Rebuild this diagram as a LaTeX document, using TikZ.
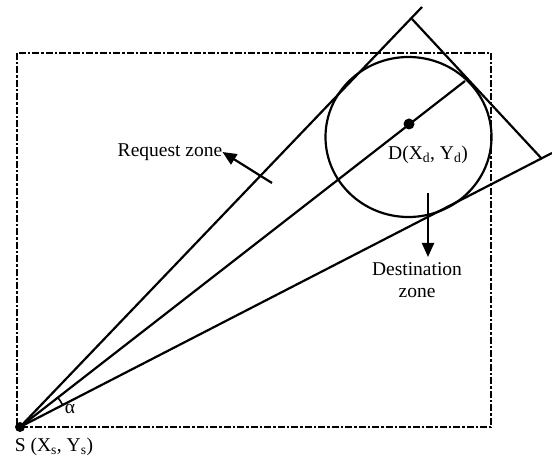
\documentclass[tikz,border=0pt]{standalone}
\usepackage{fontspec}
\setmainfont{Liberation Serif}
\usetikzlibrary{arrows.meta,calc}
\begin{document}
\begin{tikzpicture}[x=1pt,y=1pt,
  ln/.style={line width=2.2pt},
  zone/.style={line width=1.8pt,dash pattern=on 7pt off 2pt on 2.5pt off 2pt},
  lbl/.style={font=\fontsize{19.5}{22}\selectfont,inner sep=0pt},
  tip/.style={-{Triangle[length=14pt,width=12pt]},line width=2.2pt},
  dot/.style={circle,fill=black,inner sep=0pt}]
\useasboundingbox (0,0) rectangle (552,-457);
% dashed zone rectangle
\draw[zone] (17,-53) rectangle (491,-427);
% key points
\coordinate (S) at (20,-427);
\coordinate (U) at (422,-7);
\coordinate (L) at (552,-153);
\coordinate (M) at (465,-81);
\coordinate (P1) at (412,-19);
\coordinate (P2) at (542,-159);
% destination zone circle
\draw[ln] (408.5,-137) ellipse[x radius=83, y radius=80];
% lines
\draw[ln] (S) -- (U);
\draw[ln] (S) -- (L);
\draw[ln] (S) -- (M);
\draw[ln] (P1) -- (P2);
% dots
\node[dot,minimum size=10pt] (Sdot) at (S) {};
\node[dot,minimum size=11pt] (Ddot) at (409,-124) {};
% angle
\draw[line width=1.6pt] (S) ++(27.2:48) arc[start angle=27.2, end angle=37.9, radius=48];
\node[lbl] (alpha) at (70,-409) {α};
% labels
\node[lbl] (Slbl) at (54,-447) {S (X\textsubscript{s}, Y\textsubscript{s})};
\node[lbl] (Dlbl) at (428,-155) {D(X\textsubscript{d}, Y\textsubscript{d})};
\node[lbl] (req) at (170,-152) {Request zone};
\node[lbl,align=center] (dest) at (417,-280) {Destination\\zone};
% arrows
\coordinate (reqtail) at (272,-183);
\draw[tip] (reqtail) -- (req.east);
\coordinate (desttail) at (428,-193);
\draw[tip] (desttail) -- (428,-257);
\end{tikzpicture}
\end{document}
